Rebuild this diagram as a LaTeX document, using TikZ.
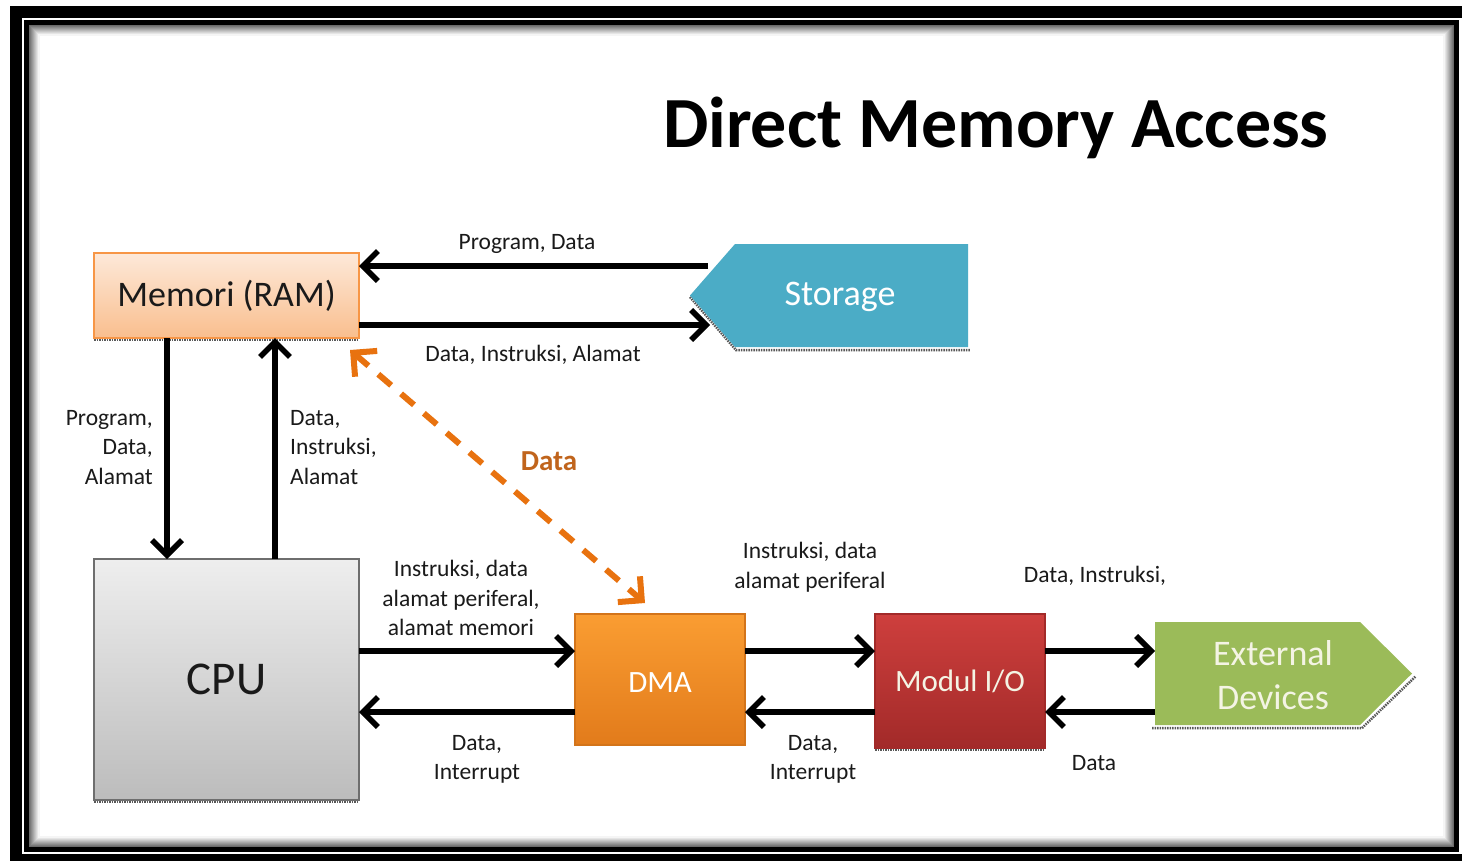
\documentclass[tikz,border=0pt]{standalone}
\usepackage{fontspec}
\setmainfont{Carlito}
\usetikzlibrary{arrows.meta,calc}
\definecolor{lbltxt}{HTML}{1A1A1A}
\definecolor{memtop}{HTML}{FDE9D9}
\definecolor{membot}{HTML}{F9BE8E}
\definecolor{memdraw}{HTML}{F79646}
\definecolor{storfill}{HTML}{4BACC6}
\definecolor{cputop}{HTML}{EEEEEE}
\definecolor{cpubot}{HTML}{BCBCBC}
\definecolor{cpudraw}{HTML}{6E6E6E}
\definecolor{dmatop}{HTML}{FA9D32}
\definecolor{dmabot}{HTML}{E27B1B}
\definecolor{dmadraw}{HTML}{D3741A}
\definecolor{modtop}{HTML}{CE3F3D}
\definecolor{modbot}{HTML}{A22A29}
\definecolor{extfill}{HTML}{9BBB59}
\definecolor{exttxt}{HTML}{F4F4E4}
\definecolor{dorange}{HTML}{E8720F}
\definecolor{dtxt}{HTML}{C0641C}
\begin{document}
\begin{tikzpicture}[x=1pt,y=-1pt,
  box/.style={draw, line width=1.2, inner sep=0, outer sep=0},
  arr/.style={line width=5.5, draw=black, -{Straight Barb[length=15pt,width=30pt]}},
  lbl/.style={font=\fontsize{23.5}{29.5}\selectfont, text=lbltxt, inner sep=0},
  shd/.style={draw=black!65, line width=2.5, dash pattern=on 1.5pt off 1pt},
  dsh/.style={line width=6, draw=dorange, dash pattern=on 17pt off 13pt,
    {Straight Barb[length=17pt,width=34pt]}-{Straight Barb[length=17pt,width=34pt]}},
]
\useasboundingbox (0,0) rectangle (1462,860);
\fill[white] (0,0) rectangle (1462,860);
% frame
\draw[line width=12] (16,11.5) rectangle (1472,860);
\draw[line width=5] (26.5,22.5) rectangle (1456.5,849.5);
\foreach \i in {0,...,9}{
  \pgfmathsetmacro{\p}{58-6*\i}
  \draw[black!\p, line width=1.1] (30+\i,26+\i) rectangle (1453-\i,846-\i);
}
% title
\node[font=\bfseries\fontsize{72}{80}\selectfont, anchor=base, inner sep=0] (title) at (996,147) {Direct Memory Access};
% Memori
\draw[shd] (94,340) -- (359,340);
\node[box, draw=memdraw, top color=memtop, bottom color=membot, minimum width=265, minimum height=85,
  font=\fontsize{36}{40}\selectfont, text=lbltxt] (mem) at (226.5,295.5) {Memori (RAM)};
% Storage
\draw[shd] (690,297) -- (736,350) -- (970,350);
\fill[storfill] (735,244) -- (968,244) -- (968,347) -- (735,347) -- (690,295.5) -- cycle;
\node[font=\fontsize{36}{40}\selectfont, text=white, anchor=base, inner sep=0] (stor) at (840,305) {Storage};
\coordinate (stin) at (708,266);
\coordinate (stout) at (710,325);
% CPU
\draw[shd] (94,802) -- (359,802);
\node[box, draw=cpudraw, top color=cputop, bottom color=cpubot, minimum width=265, minimum height=241,
  font=\fontsize{47}{50}\selectfont, text=lbltxt] (cpu) at (226.5,679.5) {CPU};
% DMA
\node[box, draw=dmadraw, top color=dmatop, bottom color=dmabot, minimum width=170, minimum height=131,
  font=\fontsize{31}{34}\selectfont, text=white, text height=25pt, text depth=0pt] (dma) at (660,679.5) {DMA};
% Modul I/O
\draw[shd] (875,750) -- (1045,750);
\node[box, draw=modbot, top color=modtop, bottom color=modbot, minimum width=170, minimum height=134,
  font=\fontsize{31}{34}\selectfont, text=exttxt] (mod) at (960,681) {Modul I/O};
% External devices
\draw[shd] (1152,728) -- (1362,728) -- (1416,676);
\fill[extfill] (1155,622) -- (1360,622) -- (1412,673.5) -- (1360,725) -- (1155,725) -- cycle;
\node[font=\fontsize{36}{44}\selectfont, text=exttxt, align=center, inner sep=0] (ext) at (1273,675) {External\\Devices};
\coordinate (extin) at (1155,651);
\coordinate (extout) at (1155,712);
% row coordinates
\coordinate (r1) at (0,651);
\coordinate (r2) at (0,712);
% arrows Memori <-> Storage
\draw[arr] (stin) -- (stin -| mem.east);
\draw[arr] (stout -| mem.east) -- (stout);
\node[lbl, anchor=base] (l1) at (527,249) {Program, Data};
\node[lbl, anchor=base] (l2) at (533,361) {Data, Instruksi, Alamat};
% Memori <-> CPU
\draw[arr] ([xshift=73]mem.south west) -- ([xshift=73]cpu.north west);
\draw[arr] ([xshift=181]cpu.north west) -- ([xshift=181]mem.south west);
\node[lbl, anchor=north east, align=right] (l3) at (153,410) {Program,\\Data,\\Alamat};
\node[lbl, anchor=north west, align=left] (l4) at (290,410) {Data,\\Instruksi,\\Alamat};
% CPU <-> DMA
\draw[arr] (r1 -| cpu.east) -- (r1 -| dma.west);
\draw[arr] (r2 -| dma.west) -- (r2 -| cpu.east);
\node[lbl, anchor=north, align=center] (l5) at (461,560) {Instruksi, data\\alamat periferal,\\alamat memori};
\node[lbl, anchor=north, align=center] (l6) at (477,735) {Data,\\Interrupt};
% DMA <-> Modul
\draw[arr] (r1 -| dma.east) -- (r1 -| mod.west);
\draw[arr] (r2 -| mod.west) -- (r2 -| dma.east);
\node[lbl, anchor=north, align=center] (l7) at (810,542) {Instruksi, data\\alamat periferal};
\node[lbl, anchor=north, align=center] (l8) at (813,735) {Data,\\Interrupt};
% Modul <-> External
\draw[arr] (r1 -| mod.east) -- (extin);
\draw[arr] (extout) -- (r2 -| mod.east);
\node[lbl, anchor=base] (l9) at (1095,582) {Data, Instruksi,};
\node[lbl, anchor=base] (l10) at (1094,770) {Data};
% dashed Data arrow
\draw[dsh] ($(mem.south east)+(-9,12)$) -- ($(dma.north)+(-15,-11)$);
\node[font=\bfseries\fontsize{29}{32}\selectfont, text=dtxt, anchor=base, inner sep=0] (ld) at (549,470) {Data};
\end{tikzpicture}
\end{document}
